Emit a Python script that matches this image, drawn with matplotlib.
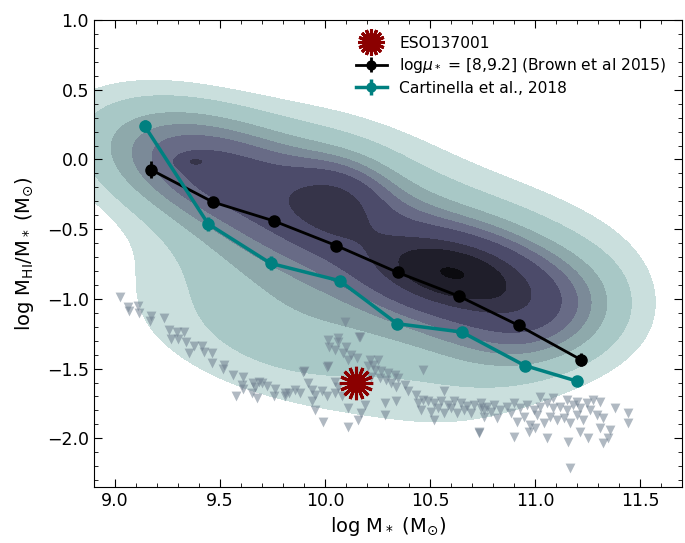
import numpy as np
import matplotlib
matplotlib.use("Agg")
import matplotlib.pyplot as plt
from matplotlib.ticker import MultipleLocator

# Brown et al. 2015 stacked gas fractions, log mu_* = [8, 9.2]
brown_mstar = [9.17, 9.466, 9.755, 10.054, 10.345, 10.638, 10.921, 11.216]
brown_frac = [-0.072, -0.305, -0.44, -0.618, -0.81, -0.981, -1.19, -1.435]
brown_err = [0.06, 0.02, 0.02, 0.02, 0.02, 0.02, 0.02, 0.05]

# Cartinella et al. 2018
cart_mstar = [9.142, 9.444, 9.741, 10.07, 10.343, 10.651, 10.95, 11.201]
cart_frac = [0.24, -0.462, -0.745, -0.87, -1.178, -1.238, -1.478, -1.591]
cart_err = [0.04, 0.05, 0.05, 0.02, 0.02, 0.02, 0.02, 0.02]

# ESO137-001
eso_mstar = [10.146]
eso_frac = [-1.606]

# HI non-detections (upper limits)
lim_mstar = [
    9.026, 9.062, 9.109, 9.067, 9.113, 9.173, 9.165, 9.236, 9.259, 9.294,
    9.327, 9.267, 9.299, 9.338, 9.354, 9.378, 9.417, 9.425, 9.464, 9.461,
    9.52, 9.516, 9.562, 9.609, 9.606, 9.609, 9.575, 9.658, 9.685, 9.70,
    9.669, 9.724, 9.653, 9.677, 9.764, 9.756, 9.808, 9.811,
    10.016, 10.06, 10.06, 10.02, 10.046, 10.10, 10.087, 10.126, 10.11, 10.15,
    10.166, 10.213, 10.252, 10.229, 10.205, 10.016, 9.898, 9.921, 10.048, 10.063,
    10.237, 10.268, 10.30, 10.331, 10.221, 10.26, 10.292, 10.315, 10.347, 10.339,
    10.379, 10.465, 9.858, 9.882, 9.827, 9.937, 9.953, 9.984, 10.008, 10.048,
    10.079, 9.937, 9.953, 9.992, 10.11, 10.11, 10.158, 10.189, 10.173, 10.284,
    10.284, 10.339, 9.894, 10.01, 10.097, 10.164,
    10.394, 10.433, 10.465, 10.489, 10.52, 10.552, 10.583, 10.615, 10.646, 10.678,
    10.709, 10.741, 10.457, 10.504, 10.567, 10.63, 10.693, 10.756, 10.441, 10.536,
    10.599, 10.662, 10.733, 10.567, 10.52,
    10.741, 10.772, 10.804, 10.835, 10.867, 10.898, 10.93, 10.961, 10.993, 11.024,
    11.056, 11.087, 11.119, 11.151, 11.182, 11.214, 11.245, 11.277, 11.308, 11.261,
    10.757, 10.82, 10.883, 10.946, 11.009, 11.072, 11.135, 11.198, 10.788, 10.914,
    10.977, 11.04, 11.103, 11.166, 11.229, 11.292, 11.324, 11.024, 11.087, 11.151,
    11.198,
    10.733, 10.898, 10.969, 11.001, 11.056, 11.158, 11.214, 11.253, 11.308, 11.324,
    11.348, 11.355, 11.379, 11.442, 11.442, 11.166,
]
lim_frac = [
    -0.988, -1.055, -1.048, -1.09, -1.10, -1.12, -1.16, -1.14, -1.22, -1.24,
    -1.235, -1.29, -1.29, -1.31, -1.39, -1.34, -1.34, -1.38, -1.385, -1.46,
    -1.475, -1.505, -1.545, -1.56, -1.62, -1.65, -1.695, -1.60, -1.593, -1.605,
    -1.63, -1.625, -1.676, -1.71, -1.65, -1.70, -1.676, -1.70,
    -1.294, -1.282, -1.306, -1.342, -1.366, -1.342, -1.39, -1.40, -1.437, -1.425,
    -1.27, -1.437, -1.437, -1.473, -1.485, -1.485, -1.52, -1.605, -1.593, -1.629,
    -1.509, -1.52, -1.533, -1.545, -1.557, -1.57, -1.581, -1.605, -1.57, -1.63,
    -1.617, -1.509, -1.652, -1.676, -1.676, -1.652, -1.688, -1.664, -1.70, -1.676,
    -1.70, -1.736, -1.796, -1.88, -1.784, -1.916, -1.868, -1.76, -1.82, -1.748,
    -1.832, -1.736, -1.526, -1.49, -1.166, -1.274,
    -1.664, -1.688, -1.724, -1.736, -1.748, -1.736, -1.76, -1.736, -1.748, -1.772,
    -1.76, -1.784, -1.796, -1.808, -1.82, -1.82, -1.82, -1.796, -1.748, -1.784,
    -1.784, -1.796, -1.963, -1.664, -1.868,
    -1.75, -1.774, -1.762, -1.798, -1.774, -1.75, -1.786, -1.762, -1.798, -1.774,
    -1.75, -1.786, -1.774, -1.798, -1.762, -1.786, -1.75, -1.726, -1.738, -1.798,
    -1.845, -1.857, -1.822, -1.845, -1.834, -1.845, -1.857, -1.834, -1.81, -1.881,
    -1.905, -1.893, -1.869, -1.893, -1.869, -1.834, -1.857, -1.702, -1.714, -1.726,
    -1.738,
    -1.953, -1.989, -1.953, -1.929, -2.001, -2.025, -1.953, -2.001, -1.929, -2.037,
    -2.001, -1.941, -1.786, -1.822, -1.893, -2.216,
]

# density lobes of the HI-detected sample: centre x, centre y, sigma along,
# sigma across, tilt (deg), weight, exponent along the tilt axis
lobe_x = [10.25, 9.80, 9.40, 9.38, 9.95, 10.06, 10.65, 10.60, 11.00]
lobe_y = [-0.86, -1.25, -0.03, -0.015, -0.38, -0.28, -0.85, -0.80, -1.12]
lobe_su = [0.90, 0.35, 0.35, 0.05, 0.35, 0.18, 0.40, 0.26, 0.20]
lobe_sv = [0.56, 0.25, 0.24, 0.03, 0.28, 0.15, 0.26, 0.17, 0.25]
lobe_ang = [-29, -30, -33, 0, -35, -70, -30, -15, -40]
lobe_w = [0.15, 0.08, 0.50, 0.22, 0.40, 0.30, 0.60, 0.40, 0.20]
lobe_p = [4, 2, 2, 2, 2, 2, 2, 2, 2]

# filled contour boundaries (density units) and their colours
levels = [0.05, 0.11, 0.22, 0.32, 0.42, 0.55, 0.78, 0.95, 1.16, 5.0]
band_colors = ['#cadfdd', '#a8c8c6', '#8ea9ab', '#7b8a98', '#686b86',
               '#4c4b6a', '#363449', '#1f1e2a', '#0b0b0f']


def density(X, Y):
    Z = np.zeros_like(X)
    for cx, cy, su, sv, ang, w, p in zip(lobe_x, lobe_y, lobe_su, lobe_sv,
                                         lobe_ang, lobe_w, lobe_p):
        t = np.deg2rad(ang)
        u = (X - cx) * np.cos(t) + (Y - cy) * np.sin(t)
        v = -(X - cx) * np.sin(t) + (Y - cy) * np.cos(t)
        Z += w * np.exp(-0.5 * (np.abs(u / su) ** p + (v / sv) ** 2))
    return Z


fig, ax = plt.subplots(figsize=(6.85, 5.43), dpi=100)
fig.subplots_adjust(left=0.137, right=0.996, bottom=0.103, top=0.963)

gx, gy = np.meshgrid(np.linspace(8.5, 12.0, 450), np.linspace(-3.0, 1.6, 450))
ax.contourf(gx, gy, density(gx, gy), levels=levels, colors=band_colors,
            zorder=1)

ax.scatter(lim_mstar, lim_frac, marker='v', s=50, color='#708090',
           alpha=0.55, linewidths=0, zorder=2)

h_brown = ax.errorbar(brown_mstar, brown_frac, yerr=brown_err, fmt='-o',
                      color='black', ms=8, lw=2, elinewidth=2, capsize=0,
                      zorder=3)
h_cart = ax.errorbar(cart_mstar, cart_frac, yerr=cart_err, fmt='-o',
                     color='teal', ms=8, lw=2.5, elinewidth=2.5, capsize=0,
                     zorder=4)
h_eso, = ax.plot(eso_mstar, eso_frac, ls='none', marker=(16, 2, 0), ms=24,
                 mew=2.2, color='darkred', zorder=5)

ax.legend([h_eso, h_brown, h_cart],
          ['ESO137001', r'log$\mu_*$ = [8,9.2] (Brown et al 2015)',
           'Cartinella et al., 2018'],
          loc='upper right', frameon=False, fontsize=11.2, markerscale=0.8,
          handletextpad=0.8, labelspacing=0.35, borderaxespad=0.6)

ax.set_xlim(8.9, 11.7)
ax.set_ylim(-2.35, 1.0)
ax.xaxis.set_major_locator(MultipleLocator(0.5))
ax.xaxis.set_minor_locator(MultipleLocator(0.1))
ax.yaxis.set_major_locator(MultipleLocator(0.5))
ax.yaxis.set_minor_locator(MultipleLocator(0.1))
ax.tick_params(which='both', direction='in', top=True, right=True,
               labelsize=12.5)
ax.tick_params(which='major', length=6)
ax.tick_params(which='minor', length=3)
ax.set_xlabel(r'log M$_*$ (M$_{\odot}$)', fontsize=14)
ax.set_ylabel(r'log M$_{\mathrm{HI}}$/M$_*$ (M$_{\odot}$)', fontsize=14,
              labelpad=8)

fig.savefig('out.png', dpi=100)
